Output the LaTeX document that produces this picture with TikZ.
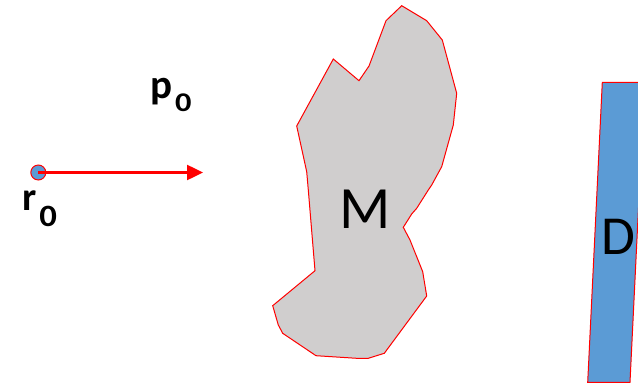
\documentclass[tikz,border=0pt]{standalone}
\usepackage{fontspec}
\setmainfont[Numbers=Lining]{Carlito}
\usetikzlibrary{arrows.meta}
\definecolor{massgray}{HTML}{D0CECE}
\definecolor{detblue}{HTML}{5B9BD5}

\begin{document}
\begin{tikzpicture}[x=1pt,y=-1pt,
  redline/.style={draw=red,line width=1pt},
  biglabel/.style={inner sep=0pt,anchor=base west,font=\bfseries}]
\useasboundingbox (0,0) rectangle (638,388);
\draw[redline,fill=massgray] (401.7,5.7) -- (426.7,20.7) -- (442.3,40) -- (456.7,93.3) -- (453.3,125)
  -- (441.7,166.7) -- (431.7,185) -- (428.3,190) -- (416.7,208.3) -- (411.7,214) -- (403.3,227.3)
  -- (410,240) -- (422.7,271.7) -- (426.7,296) -- (384.3,353.3) -- (368.3,358.3) -- (356.7,358.3)
  -- (316,355.7) -- (282.7,333.3) -- (278.3,325) -- (272.7,305.7) -- (315,270.7) -- (308.3,190)
  -- (306.7,171.7) -- (296.7,126) -- (333.3,59) -- (359,80.7) -- (369,66) -- (386,20.7) -- cycle;
\begin{scope}
\clip (0,0) rectangle (638,388);
\draw[redline,fill=detblue] (602.3,82.3) -- (644.6,82.3) -- (630,382.3) -- (587.7,382.3) -- cycle;
\end{scope}
\node[inner sep=0pt,font=\fontsize{60}{60}\selectfont] (mlabel) at (364.7,209) {M};
\node[inner sep=0pt,font=\fontsize{55}{55}\selectfont] (dlabel) at (618,236.7) {D};
\node[redline,circle,fill=detblue,minimum size=15pt,inner sep=0pt] (rdot) at (38.3,172.5) {};
\coordinate (ptip) at (203,172.5);
\draw[red,line width=2.5pt,-{Triangle[length=16pt,width=15pt]}] (rdot.center) -- (ptip);
\node[biglabel,font=\bfseries\fontsize{41}{41}\selectfont] (plabel) at (150,98)
  {p\hspace{3pt}\raisebox{-13pt}{\fontsize{27}{27}\selectfont\scalebox{1.2}[1]{0}}};
\node[biglabel,font=\bfseries\fontsize{40}{40}\selectfont] (rlabel) at (22,210)
  {r\hspace{3pt}\raisebox{-16.7pt}{\fontsize{31}{31}\selectfont\scalebox{1.12}[1]{0}}};
\end{tikzpicture}
\end{document}
